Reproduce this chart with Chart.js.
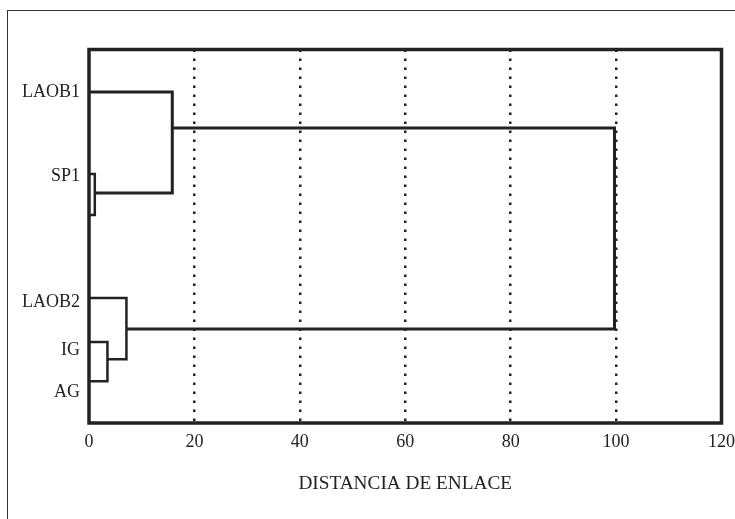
<!DOCTYPE html>
<html>
<head>
<meta charset="utf-8">
<script src="https://cdn.jsdelivr.net/npm/chart.js@4"></script>
<style>
  html, body { margin: 0; padding: 0; background: #fff; }
  #wrap { position: relative; width: 735px; height: 519px; overflow: hidden; }
  #frame { position: absolute; left: 7px; top: 10px; width: 740px; height: 520px;
           border-top: 1.5px solid #333; border-left: 1.5px solid #333; }
  #c { position: absolute; left: 0; top: 0; }
</style>
</head>
<body>
<div id="wrap">
  <div id="frame"></div>
  <canvas id="c" width="735" height="519"></canvas>
</div>
<script>
// Leaves of the dendrogram and where their names sit on the vertical scale
const leafNames = ['LAOB1', 'SP1', 'LAOB2', 'IG', 'AG'];
const leafLabelY = [8.86, 6.61, 3.24, 1.95, 0.83];

// Linkage distance axis
const distanceTicks = [0, 20, 40, 60, 80, 100, 120];
const gridLines = [20, 40, 60, 80, 100];

// Each link joins an upper and a lower branch at a given linkage distance
const linkDistance   = [1.1, 15.8, 3.5, 7.1, 99.7];
const linkUpperY     = [6.67, 8.86, 2.17, 3.35, 7.90];
const linkLowerY     = [5.57, 6.16, 1.12, 1.71, 2.52];
const linkUpperStart = [0, 0, 0, 0, 15.8];
const linkLowerStart = [0, 1.1, 0, 3.5, 7.1];
const linkWidth      = [2.5, 3, 2.5, 2.5, 3];

const ink = '#222';
const serif = "'Liberation Serif', 'Times New Roman', serif";

const datasets = linkDistance.map((d, i) => ({
  label: 'link ' + (i + 1),
  data: [
    { x: linkUpperStart[i], y: linkUpperY[i] },
    { x: d, y: linkUpperY[i] },
    { x: d, y: linkLowerY[i] },
    { x: linkLowerStart[i], y: linkLowerY[i] }
  ],
  showLine: true,
  borderColor: ink,
  borderWidth: linkWidth[i],
  borderJoinStyle: 'miter',
  borderCapStyle: 'butt',
  pointRadius: 0,
  tension: 0,
  clip: false
}));

// Heavy frame round the plotting area
const plotFrame = {
  id: 'plotFrame',
  afterDatasetsDraw(chart) {
    const a = chart.chartArea;
    const ctx = chart.ctx;
    ctx.save();
    ctx.strokeStyle = ink;
    ctx.lineWidth = 3.5;
    ctx.lineJoin = 'miter';
    ctx.strokeRect(a.left, a.top, a.right - a.left, a.bottom - a.top);
    ctx.restore();
  }
};

new Chart(document.getElementById('c'), {
  type: 'scatter',
  data: { datasets },
  options: {
    responsive: false,
    animation: false,
    events: [],
    layout: { padding: { top: 49.5, right: 13.5, bottom: 22, left: 0 } },
    plugins: { legend: { display: false }, tooltip: { enabled: false } },
    scales: {
      x: {
        type: 'linear',
        min: 0,
        max: 120,
        afterBuildTicks: s => { s.ticks = distanceTicks.map(v => ({ value: v })); },
        afterFit: s => { s.height = 74; s.paddingLeft = 0; s.paddingRight = 0; },
        ticks: { color: ink, font: { family: serif, size: 18 }, padding: 8, maxRotation: 0 },
        grid: {
          drawTicks: false,
          lineWidth: 2.5,
          color: ctx => gridLines.includes(ctx.tick && ctx.tick.value) ? ink : 'rgba(0,0,0,0)'
        },
        border: { display: false, dash: [2.5, 6.5] },
        title: {
          display: true,
          text: 'DISTANCIA DE ENLACE',
          color: ink,
          font: { family: serif, size: 19.3 },
          padding: { top: 0, bottom: 1 }
        }
      },
      y: {
        type: 'linear',
        min: 0,
        max: 10,
        afterBuildTicks: s => { s.ticks = leafLabelY.map(v => ({ value: v })); },
        afterFit: s => { s.width = 89; },
        ticks: {
          color: ink,
          font: { family: serif, size: 18 },
          padding: 9,
          callback: v => leafNames[leafLabelY.indexOf(v)]
        },
        grid: { display: false, drawTicks: false },
        border: { display: false }
      }
    }
  },
  plugins: [plotFrame]
});
</script>
</body>
</html>
